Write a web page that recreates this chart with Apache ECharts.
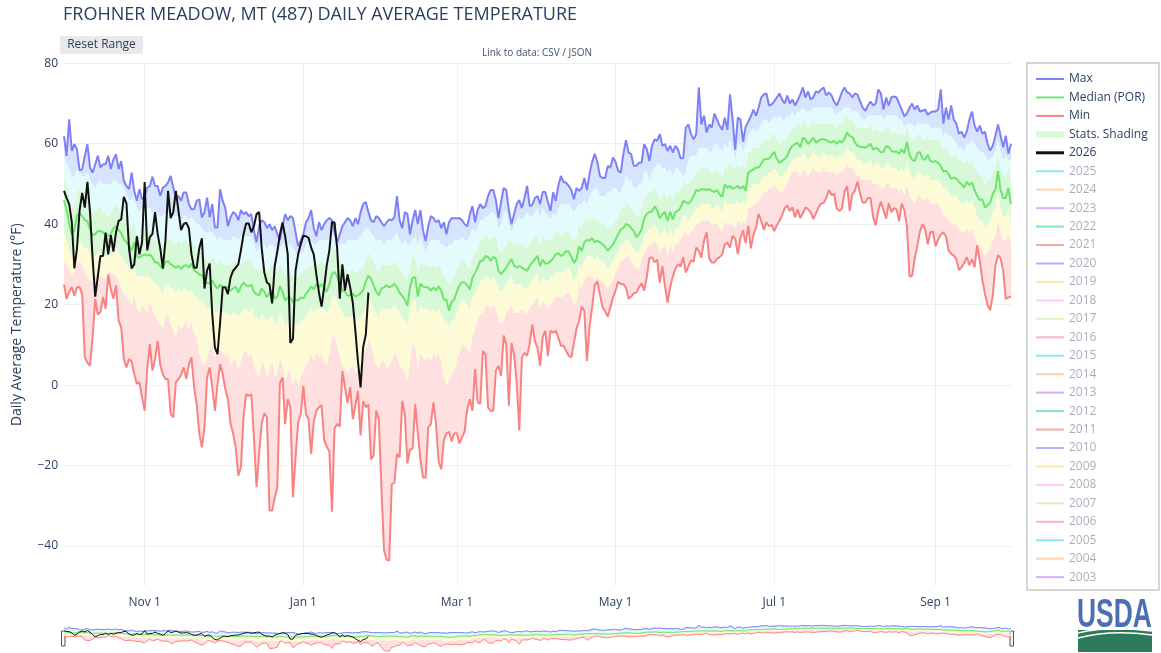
<!DOCTYPE html>
<html>
<head>
<meta charset="utf-8">
<title>Frohner Meadow daily average temperature</title>
<script src="https://cdn.jsdelivr.net/npm/echarts@6/dist/echarts.min.js"></script>
<style>
  html, body { margin: 0; padding: 0; background: #fff; }
  #chart { width: 1161px; height: 653px; }
</style>
</head>
<body>
<div id="chart"></div>
<script>
// water year 2026 : Oct 1 2025 .. Sep 30 2026
const monthNames = ['Oct', 'Nov', 'Dec', 'Jan', 'Feb', 'Mar', 'Apr', 'May', 'Jun', 'Jul', 'Aug', 'Sep']
const monthDays = [31, 30, 31, 31, 28, 31, 30, 31, 30, 31, 31, 30]
const tickLabels = ['Nov 1', 'Jan 1', 'Mar 1', 'May 1', 'Jul 1', 'Sep 1']
const yTicks = [-40, -20, 0, 20, 40, 60, 80]

const dates = []
monthNames.forEach((m, i) => {
  for (let d = 1; d <= monthDays[i]; d++) dates.push(m + ' ' + d)
})

// period of record statistics, deg F, one value per day
const maxTemp = [
  61.9, 57, 66.1, 58.2, 59.9, 58.6, 53.3, 53.7, 57, 59.9,
  54.1, 52.8, 54.9, 57, 54.1, 54.9, 54.9, 57, 53.7, 56.1,
  57.4, 53.7, 55.7, 50.8, 49.5, 48.7, 52.8, 48.3, 45.8, 48.7,
  46.2, 47, 49.1, 49.5, 51.8, 49.5, 49.5, 47, 49.1, 49.5,
  50.4, 52, 49.1, 46.6, 47, 45.8, 47.9, 47.9, 45, 43.7,
  43.7, 45.8, 46.2, 41.7, 42.9, 46.6, 41.7, 45, 39.2, 39.2,
  48.7, 45.8, 44, 39.5, 41.7, 43, 42.5, 41, 43.5, 42.5,
  43, 42, 42.5, 38.5, 35.5, 39.5, 41, 40.5, 39, 40,
  38.5, 39.5, 37.5, 36, 39.5, 42.5, 41, 42, 41.5, 38,
  34.5, 36, 37.5, 40.5, 41.5, 43.5, 39, 37, 40.5, 38.5,
  40, 41, 41.5, 41, 38, 35.5, 37.5, 39.5, 40.5, 41.5,
  41, 39.5, 41.5, 40, 43, 45, 45.5, 43, 41, 40.5,
  42, 41.5, 40.5, 39.5, 40.5, 41.2, 41, 41.7, 47, 41,
  39, 43, 42.5, 37.5, 41, 43.5, 40, 43.5, 38.5, 35.8,
  39.5, 42, 41.5, 40.5, 41, 39, 40.5, 37.5, 40.5, 41.5,
  41.5, 41.5, 41.5, 41, 40, 39.5, 42.5, 44.5, 40.5, 43.5,
  45, 44, 44.5, 47, 48.5, 48.5, 46, 41.5, 45.5, 49,
  48.5, 43.5, 40, 42.5, 45, 46, 44, 46.5, 49.5, 44.5,
  44.8, 46.5, 47, 45, 48, 48, 45.5, 43.3, 47.9, 45.8,
  49.5, 52, 50.5, 50.3, 49.5, 48.5, 46.2, 49, 48.3, 49,
  51.5, 48.5, 52.5, 55.5, 57.5, 55.5, 52, 51.5, 51.5, 54.5,
  54, 56.6, 55.5, 53.3, 52.8, 57.4, 60.9, 57.8, 57.4, 54.5,
  54.5, 55.3, 55.3, 59.9, 58.7, 55.7, 59.5, 61.1, 60.7, 62.4,
  59.5, 59.9, 58.2, 59.5, 57.8, 59.5, 58.6, 56.4, 56.4, 64,
  64.8, 62.4, 61.1, 62.4, 74, 64.8, 67, 62.8, 64.8, 64,
  67.5, 66, 64.5, 63.5, 66.5, 63.5, 72.3, 66, 58.5, 66.5,
  66, 60.5, 64.2, 65.5, 66.8, 68.5, 67, 69, 71.5, 72.3,
  72.5, 69.5, 69.8, 70.5, 71.5, 72.5, 71, 70, 72, 70,
  71, 69.5, 70.8, 72.2, 74, 71.5, 73, 71, 71.5, 73,
  72.7, 73.5, 74, 72, 72.8, 72, 70.5, 69.5, 71, 72.8,
  74, 72.8, 72.5, 71.5, 72.5, 72.2, 70.5, 69, 68.2, 69.5,
  70.5, 69.5, 70, 73.5, 72.5, 68.5, 71.5, 69.5, 71.5, 71.8,
  71.5, 70, 68.5, 66.8, 67.5, 69, 70, 68.5, 69.5, 68,
  68.2, 68.5, 67.2, 67.8, 68, 68, 68.5, 73.5, 65, 69,
  66, 69.5, 66, 65, 62.5, 63, 61.5, 63, 66, 68,
  64.5, 63, 64.5, 62.5, 63, 60, 58.3, 59.5, 62, 64.8,
  62, 59.1, 62, 57.5, 60
]

const p90 = [
  57, 55, 54, 52, 52, 54, 53, 52, 52, 53,
  51, 50, 49, 50, 51, 50, 50, 50, 50, 51,
  51, 50, 50, 49, 47, 46, 46, 47, 44, 43,
  44, 44, 44, 44, 43, 43, 43, 42, 42, 43,
  43, 43, 42, 42, 42, 41, 42, 42, 41, 42,
  41, 40, 40, 39, 38, 38, 38, 38, 37, 36,
  37, 36, 36, 36, 36, 37, 37, 36, 37, 37,
  37, 37, 37, 35, 33, 34, 36, 35, 34, 35,
  35, 34, 33, 34, 35, 35, 35, 35, 34, 33,
  32, 33, 33, 35, 36, 36, 35, 35, 36, 36,
  36, 36, 37, 38, 36.5, 34, 35, 35, 35, 36,
  36, 36, 36, 36, 37, 38, 39, 39, 38, 37,
  36, 36, 36, 35, 36, 36, 36, 37, 38, 36,
  35, 36, 35, 35, 36, 37, 35, 37, 35, 33,
  35, 36, 36, 36, 36, 35, 35, 34, 35, 35,
  36, 36, 36, 37, 36, 36, 37, 39, 38, 39,
  41, 41, 42, 42, 43, 43, 42, 39, 40, 43,
  43, 40, 38, 40, 41, 42, 41, 42, 43, 42,
  42, 43, 44, 42, 44, 43, 42, 41, 43, 42,
  44, 45, 45, 45, 45, 44, 43, 44, 45, 45,
  46, 45, 47, 48, 49, 49, 47, 47, 47, 48,
  48, 49, 49, 48, 48, 50, 52, 51, 51, 49,
  49, 50, 50, 53, 53, 51, 53, 54, 55, 55,
  54, 54, 53, 54, 52, 54, 54, 53, 52, 53,
  56, 57, 57, 57, 59, 59, 59, 59, 58, 58,
  60, 60, 59, 58, 60, 59, 61, 59, 56, 60,
  60, 58, 60, 62, 63, 64, 63, 64, 65, 66,
  66, 65, 66, 67, 66, 67, 66, 66, 67, 67,
  68, 67, 68, 68, 69, 68, 68, 68, 69, 69,
  69, 69, 69, 69, 69, 69, 68, 67, 68, 68,
  69, 69, 69, 68, 68, 68, 67, 66, 66, 67,
  67, 67, 67, 67, 67, 66, 67, 67, 67, 67,
  67, 66, 66, 64, 65, 65, 65, 64, 65, 65,
  65, 65, 65, 64, 64, 64, 64, 64, 62, 63,
  62, 62, 61, 60, 59, 59, 58, 60, 60, 61,
  60, 59, 58, 58, 57, 56, 56, 57, 58, 61,
  58, 56, 57, 56, 56
]

const p70 = [
  52, 50, 47, 44, 45, 48, 49, 48, 47, 47,
  45, 43, 43, 44, 44, 43, 43, 42, 43, 44,
  45, 44, 43, 42, 41, 40, 39, 41, 37, 37,
  38, 38, 38, 38, 37, 36, 36, 35, 35, 36,
  37, 36, 35, 35, 36, 35, 36, 36, 35, 36,
  35, 34, 34, 33, 32, 31, 31, 32, 31, 30,
  31, 30, 30, 30, 30, 30, 31, 29, 30, 31,
  31, 31, 31, 29, 29, 28, 30, 29, 28, 29,
  30, 28, 28, 30, 29, 27, 28, 28, 27, 27,
  27, 28, 28, 29, 29, 30, 30, 31, 30, 31,
  30, 29, 31, 33, 34, 33, 31, 30, 29, 28,
  28, 29, 28, 28, 29, 29, 31, 33, 32, 31,
  29, 28, 30, 30, 30, 30, 30, 31, 30, 29,
  28, 27, 26, 30, 32, 32, 28, 31, 30, 30,
  30, 29, 30, 29, 30, 29, 27, 27, 25, 26,
  27, 29, 30, 31, 31, 30, 29, 32, 33, 34,
  36, 36, 37, 37, 36, 37, 37, 34, 33, 34,
  35, 36, 36, 35, 35, 35, 35, 34, 34, 35,
  36, 37, 37, 35, 37, 36, 36, 36, 37, 38,
  38, 37, 38, 38, 38, 37, 36, 37, 40, 39,
  41, 41, 41, 42, 41, 41, 41, 40, 40, 39,
  39, 40, 41, 42, 44, 44, 45, 45, 44, 43,
  42, 42, 44, 46, 47, 48, 48, 49, 48, 46,
  47, 48, 46, 48, 46, 48, 48, 49, 51, 50,
  50, 51, 52, 53, 53, 54, 54, 54, 54, 53,
  53, 54, 53, 52, 55, 54, 55, 54, 54, 55,
  54, 55, 54, 58, 58, 59, 59, 59, 60, 61,
  61, 61, 62, 63, 61, 60, 61, 61, 62, 63,
  64, 64, 65, 64, 66, 65, 64, 65, 66, 65,
  65, 65, 65, 65, 65, 65, 65, 64, 65, 65,
  66, 67, 66, 66, 65, 64, 64, 64, 64, 64,
  65, 63, 64, 63, 63, 63, 64, 64, 63, 63,
  63, 62, 63, 62, 65, 62, 61, 61, 62, 63,
  61, 61, 62, 61, 61, 61, 61, 60, 59, 59,
  58, 57, 57, 57, 56, 56, 55, 56, 55, 56,
  54, 53, 52, 52, 50, 51, 51, 53, 54, 58,
  54, 52, 52, 54, 51
]

const medianTemp = [
  46, 43.5, 40, 37.5, 38.5, 42.3, 42.7, 42, 41, 40.8,
  38.7, 37.2, 37.5, 38.3, 38.3, 38, 37.2, 37.2, 37.5, 39,
  39.5, 38.5, 37.8, 36.3, 35.5, 34.7, 33.5, 35.5, 32, 31.7,
  32.2, 32.5, 32.2, 32.5, 31.7, 30.5, 30.5, 29.6, 28.8, 30.5,
  30.8, 30, 29.6, 29.2, 29.6, 28.8, 29.6, 29.8, 29.2, 30.3,
  28.5, 28.1, 27.5, 27.3, 26, 25.3, 25.3, 26, 24.8, 24,
  25, 24.3, 24.3, 24.3, 23.5, 24, 24.5, 23, 24.5, 25.5,
  24.8, 24.5, 25, 23.2, 22.6, 22.3, 24, 23.2, 21.8, 23,
  23.6, 21.5, 22, 24.6, 23.2, 21, 21.8, 21.8, 20.5, 21.3,
  21, 21.8, 21.5, 22.7, 23.5, 24.5, 23.8, 25.1, 24.3, 25.1,
  24.3, 23.2, 25.1, 27.6, 28.1, 27, 25.1, 23.6, 23.2, 22.3,
  22.3, 22.8, 22, 22.3, 22.8, 23.6, 25.8, 27.2, 26.5, 24.8,
  23.2, 22.3, 24, 24.3, 24.8, 24.3, 24.6, 25.2, 24.3, 23,
  22.2, 21.2, 19.7, 24.3, 26.7, 26.8, 22, 25.2, 24.5, 24.3,
  24.3, 23.5, 24.3, 23.5, 24.6, 23.5, 21.2, 21.2, 18.5, 20.7,
  21.3, 23.2, 24.8, 25.6, 25.5, 24.8, 23.8, 26.7, 27.9, 29.2,
  30.9, 30.9, 32.1, 31.8, 30.9, 31.8, 31.5, 28.4, 27.6, 28.4,
  29.2, 30.4, 31.3, 29.7, 29.2, 29.6, 29.2, 28.8, 28.4, 29.6,
  30.5, 31.3, 32.1, 29.6, 31.2, 30.2, 30.2, 30.8, 31.5, 32.5,
  32.8, 32.1, 32.5, 33.3, 33.2, 31.9, 30.4, 31.3, 34.5, 33.3,
  35.5, 36.1, 35.9, 36.5, 35.5, 35.9, 35.5, 35, 34.4, 33.4,
  34.2, 35, 36.2, 37.5, 38.7, 39.1, 40, 39.8, 39.1, 38.3,
  36.8, 37.5, 38.7, 41.5, 42.5, 43.1, 43.1, 44.5, 43.5, 41.4,
  42.5, 43, 40.8, 43.1, 41.2, 43, 43.3, 44.1, 45.8, 45.5,
  45.1, 45.8, 47, 48.5, 48.3, 48.7, 48.7, 48.5, 48.8, 48.3,
  48, 48.5, 47.4, 46.8, 49.9, 49, 49.5, 48.8, 49.1, 49.5,
  48.8, 49.5, 48.3, 52.8, 53.3, 53.6, 54.1, 54.1, 55, 56.1,
  56.2, 56.3, 57.1, 58, 56.2, 55.3, 55.8, 56.2, 57, 58.6,
  59.5, 59.9, 60.3, 59.1, 61.5, 61.1, 59.9, 60.7, 61.5, 60.3,
  60.7, 61.1, 61.1, 60.9, 60.5, 60.3, 60.7, 60, 60.7, 60.3,
  61.3, 62.8, 61.9, 61.7, 60.3, 59.5, 59.2, 59.2, 59, 59.4,
  60, 58.5, 59, 58.6, 57.8, 58, 59.4, 59.2, 58.3, 58,
  58, 57.5, 58.6, 57.6, 60.5, 57.2, 56, 55.7, 57.6, 58,
  56.3, 56, 57.2, 55.7, 55.5, 55.7, 55.2, 54.5, 53, 53.3,
  52.5, 51.3, 51.6, 51.3, 50.5, 49.9, 49.1, 50.5, 49.7, 50.4,
  48.5, 47, 46, 46.2, 44.1, 44.8, 45.4, 47.5, 48.7, 53.2,
  48.5, 46.5, 46.5, 49, 45
]

const p30 = [
  38, 36, 34, 32, 33, 35, 36, 35, 34, 34,
  33, 32, 32, 33, 33, 32, 32, 32, 32, 33,
  34, 33, 32, 31, 30, 29, 28, 30, 27, 27,
  27, 27, 27, 27, 26, 25, 25, 24, 23, 25,
  25, 24, 24, 23, 24, 23, 24, 24, 23, 24,
  22, 22, 21, 21, 20, 19, 19, 20, 18, 18,
  19, 18, 18, 18, 17, 18, 18, 17, 18, 19,
  19, 18, 19, 17, 17, 16, 18, 17, 16, 17,
  17, 15, 16, 18, 17, 15, 16, 16, 15, 15,
  15, 16, 16, 17, 18, 19, 18, 19, 19, 19,
  19, 18, 19, 22, 22, 21, 19, 18, 17, 17,
  17, 17, 16, 17, 17, 18, 20, 21, 21, 19,
  18, 17, 19, 19, 19, 19, 19, 20, 19, 18,
  17, 16, 15, 19, 21, 21, 17, 20, 19, 19,
  19, 18, 19, 18, 19, 18, 16, 16, 14, 16,
  16, 18, 20, 21, 21, 20, 19, 22, 23, 24,
  26, 26, 27, 27, 26, 27, 26, 24, 23, 24,
  25, 26, 27, 25, 25, 25, 25, 24, 24, 25,
  26, 27, 28, 25, 27, 26, 26, 27, 27, 28,
  28, 28, 28, 29, 29, 28, 26, 27, 30, 29,
  31, 32, 32, 32, 31, 32, 31, 31, 30, 29,
  30, 31, 32, 33, 35, 35, 36, 36, 35, 34,
  33, 33, 35, 37, 38, 39, 39, 40, 39, 37,
  38, 39, 37, 39, 37, 39, 39, 40, 42, 42,
  41, 42, 43, 44, 44, 45, 45, 45, 45, 44,
  44, 45, 44, 43, 46, 45, 45, 45, 45, 46,
  45, 46, 45, 49, 49, 50, 50, 50, 51, 52,
  52, 53, 53, 54, 53, 52, 52, 53, 53, 55,
  56, 56, 57, 56, 58, 57, 56, 57, 58, 57,
  57, 57, 58, 57, 57, 57, 57, 56, 57, 57,
  58, 59, 58, 58, 57, 56, 56, 55, 55, 55,
  56, 54, 55, 55, 54, 54, 55, 55, 54, 54,
  54, 53, 54, 53, 56, 53, 52, 51, 53, 53,
  52, 52, 53, 51, 51, 51, 51, 50, 49, 49,
  48, 47, 47, 47, 46, 45, 45, 46, 45, 46,
  44, 42, 41, 41, 39, 40, 41, 43, 44, 48,
  44, 42, 42, 44, 40
]

const p10 = [
  31, 30, 29, 27, 28, 30, 31, 30, 28, 27,
  26, 26, 27, 28, 27, 27, 26, 28.5, 28, 28,
  27, 26, 24, 23, 22, 21, 20, 23, 19, 18,
  20, 19, 18, 21, 19, 17, 16, 15, 14, 17,
  18, 15, 14, 12, 15, 14, 15, 16, 14, 16,
  13, 12, 8, 6, 5, 7, 9, 10, 7, 8,
  9, 8, 7, 8, 5, 6, 7, 4, 6, 8,
  9, 7, 8, 5, 3, 2, 6, 5, 2, 4,
  6, 2, 3, 7, 5, 1, 3, 4, 0, 2,
  0, 2, 3, 5, 6, 8, 6, 8, 7, 8,
  6, 5, 8, 12, 12, 10, 7, 5, 4, 3,
  4, 5, 3, 4, 5, 6, 9, 11, 10, 7,
  5, 4, 6, 6, 4, 5, 6, 8, 7, 5,
  4, 3, 1, 6, 10, 10, 4, 8, 7, 6,
  7, 6, 8, 7, 8, 6, 2, 0, 1, 3,
  4, 6, 8, 10, 10, 9, 8, 12, 14, 16,
  18, 18, 20, 20, 19, 20, 19, 16, 15, 16,
  18, 19, 20, 18, 18, 18, 19, 18, 18, 19,
  20, 21, 22, 19, 21, 20, 19, 20, 21, 22,
  22, 22, 22, 23, 23, 22, 20, 21, 25, 24,
  26, 27, 27, 27, 26, 27, 26, 26, 25, 24,
  25, 26, 28, 29, 31, 31, 32, 32, 31, 30,
  29, 29, 31, 33, 34, 35, 35, 36, 35, 33,
  34, 35, 32, 35, 33, 35, 35, 36, 38, 38,
  37, 38, 39, 40, 40, 41, 41, 41, 41, 40,
  40, 40, 39, 38, 41, 40, 40, 40, 39, 41,
  40, 41, 40, 44, 44, 45, 45, 46, 47, 48,
  48, 49, 49, 50, 49, 48, 48, 49, 50, 52,
  53, 53, 53, 52, 54, 53, 52, 53, 54, 53,
  53, 53, 54, 53, 53, 53, 53, 52, 53, 53,
  54, 55, 54, 54, 53, 52, 52, 51, 51, 51,
  51, 50, 50, 50, 49, 49, 50, 50, 49, 49,
  49, 48, 49, 47, 50, 47, 46, 45, 47, 47,
  46, 46, 47, 45, 45, 45, 45, 44, 42, 42,
  41, 40, 40, 40, 39, 38, 38, 39, 38, 39,
  37, 35, 34, 34, 32, 33, 34, 36, 37, 41,
  38, 36, 36, 38, 35
]

const minTemp = [
  25, 21.4, 23.2, 24.4, 22.2, 24.3, 24.4, 22.5, 6.9, 5.6,
  4.8, 12, 21.4, 17.5, 18.2, 21.9, 19, 27.5, 23.8, 21.5,
  24.8, 16, 14.3, 6.5, 4.4, 6.5, 5.8, 2.8, 0.3, 0.7,
  -3, -6.4, 4, 10.2, 3.6, 6.5, 11, 5, 2.7, 1.5,
  1.5, -7.2, -8, 0.7, 1.5, 2.5, 4.4, 1.5, 5, 6.9,
  -0.5, -4.7, -12, -15.5, -10.5, 1.9, 4.4, -0.6, -6.4, 0.2,
  5.2, 2.7, -1, -3.5, -9.5, -12, -15.5, -22.5, -20.5, -8,
  -2.3, -2.7, -2.3, -12.8, -25.4, -17, -9.5, -7, -8, -31.2,
  -31.2, -28, -25.4, 0.5, 1.9, -9.7, -3.5, -5.5, -27.9, -18,
  -9.3, -7.2, -0.2, -7.2, -8.5, -17.1, -9, -6.4, -5.5, -5,
  -13.7, -15.3, -16.5, -31.5, -10.8, -9.7, -10.3, 3.5, -0.6, -4.5,
  -0.5, -8.5, -5, -1.5, -12.5, -4, -5.5, -4.8, -18.5, -17.5,
  -6.3, -8.5, -25.4, -41, -43.4, -43.6, -24.6, -24.3, -17.1, -18,
  -3.9, -7.2, -19.5, -16, -15.8, -4.7, -12, -18.5, -23, -23,
  -10.5, -9.7, -4.3, -9.8, -19, -20.9, -13.7, -12, -11.6, -14,
  -12, -12, -14.5, -13, -11.5, -6, -3.5, -6.4, 4, -4.3,
  -4.7, 8.5, 7.5, -5.6, -6.4, -6.4, 3.6, 4.8, 2.3, 12.3,
  10, -5.1, 10.5, 7.5, 0.6, -11.3, 6.9, 8, 7.3, 10.2,
  15.1, 10.9, 9.3, 4.8, 12, 13.5, 7.2, 13.5, 13, 13.5,
  11.8, 9.8, 9.8, 8.5, 7.3, 6.9, 10.5, 14, 16, 19.5,
  18.5, 6, 14.5, 19.3, 24.8, 25.8, 22.5, 19.3, 18.4, 17,
  19.3, 21.7, 23.5, 25.7, 25.1, 25.1, 24.2, 21.5, 22, 22.8,
  23, 24.3, 25.3, 23.5, 26.8, 31.5, 31.8, 30.5, 31.2, 25.5,
  29.5, 24.6, 20.5, 24.4, 27, 29, 30, 29.5, 31.8, 28,
  29.5, 31, 30.7, 34.2, 33.3, 31.7, 35.9, 38, 31.5, 30.5,
  30.5, 31.4, 31.8, 32.5, 35, 35.4, 34.2, 37.1, 36.4, 32.6,
  36.5, 38.5, 35.3, 39.6, 34, 37.3, 39.2, 42.6, 40.8, 38.6,
  40.5, 39.5, 39.8, 38.3, 39.8, 40.8, 42.2, 44, 44.6, 43.3,
  44.2, 41.7, 43.7, 41.5, 42.7, 44.2, 43.7, 43, 41.3, 42.7,
  44.2, 45.1, 45.3, 46.5, 48.5, 47.3, 47.5, 43.9, 43.3, 43.9,
  48, 49.5, 43.3, 47.5, 48.3, 50.6, 47.6, 45.3, 45.4, 46.5,
  46.5, 41.8, 39.7, 43.5, 45.6, 43.5, 41.4, 45.2, 43, 44,
  43.7, 40.7, 45.1, 43.5, 39.5, 27, 27.2, 31.5, 34.6, 38.2,
  40, 38.8, 35, 38, 38.2, 34.5, 36.2, 37.4, 38, 37,
  33.5, 32.6, 32.2, 31.3, 28.6, 29.3, 30.4, 31.8, 29.8, 31.3,
  29.3, 34.8, 30.8, 26.2, 22.6, 19.9, 18.6, 22.3, 29.6, 32.3,
  31.5, 28.4, 21.4, 21.8, 22
]

// current water year, through Jan 26
const wy2026 = [
  48.3, 46.5, 45, 40.5, 29, 34, 43.5, 47.8, 44.1, 50.5,
  43, 31.5, 22, 27, 32.1, 32.1, 37.9, 32.5, 37.3, 33.2,
  38, 40.8, 41.2, 46.8, 45.2, 34, 29, 30, 37, 32.5,
  35.5, 50.5, 33.5, 36.8, 37.6, 43, 37.6, 34, 29, 36,
  48.3, 41.5, 43, 48.3, 43.3, 38.5, 40, 40.4, 39, 32.5,
  29.2, 29.2, 34, 36.5, 24, 28.5, 30.2, 17.5, 9.4, 7.7,
  15.5, 24.3, 24.3, 22.6, 26.7, 28.4, 29.2, 30, 33.5, 37.5,
  40.2, 40.2, 38, 39.5, 42.5, 43, 34, 28, 25.5, 25,
  20.3, 29.6, 33.2, 37.5, 40.4, 37, 32.5, 10.5, 11.5, 28.4,
  32.5, 35, 37.1, 37, 36.6, 34.2, 32.5, 27.5, 23, 19.5,
  24.3, 29.8, 33.5, 40.5, 40.4, 34, 21.5, 30, 23.5, 27.5,
  24.3, 20.5, 13.5, 5.8, -0.6, 9.5, 12.5, 23
]

const pastYears = ['2025', '2024', '2023', '2022', '2021', '2020', '2019', '2018', '2017', '2016', '2015', '2014',
  '2013', '2012', '2011', '2010', '2009', '2008', '2007', '2006', '2005', '2004', '2003']
const palette = ['#19d3f3', '#ffa15a', '#ab63fa', '#00cc96', '#ef553b', '#636efa', '#fecb52', '#ff97ff', '#b6e880', '#ff6692']

const maxColor = '#8080f6'
const medColor = '#6ee46e'
const minColor = '#f98383'
const textColor = '#2a3f5f'
const gridColor = '#ebf0f8'

// stacked band edges, bottom to top
const bandEdges = [minTemp, p10, p30, p70, p90, maxTemp]
const bandColors = ['#fde0df', '#fdfbd6', '#d8f9d8', '#e4fbfd', '#d6e4fd']

const bandSeries = (idx, stack) => {
  const out = [{
    name: 'base', type: 'line', xAxisIndex: idx, yAxisIndex: idx,
    stack, stackStrategy: 'all', data: minTemp, symbol: 'none', silent: true, z: 1,
    lineStyle: { width: 0, opacity: 0 }
  }]
  bandColors.forEach((c, i) => {
    const lo = bandEdges[i], hi = bandEdges[i + 1]
    out.push({
      name: 'Stats. Shading', type: 'line', xAxisIndex: idx, yAxisIndex: idx,
      stack, stackStrategy: 'all', symbol: 'none', silent: true, z: 1,
      data: hi.map((v, k) => +Math.max(0, v - lo[k]).toFixed(2)),
      lineStyle: { width: 0, opacity: 0 },
      areaStyle: { color: c, opacity: 1 }
    })
  })
  return out
}

const lineSeries = (name, data, color, width, idx, z) => ({
  name, type: 'line', data, xAxisIndex: idx, yAxisIndex: idx,
  symbol: 'none', silent: true, z, color,
  lineStyle: { color, width }
})

const showTick = (i, v) => tickLabels.indexOf(v) > -1

// legend icons: thin bars inside a 28x12 box
const lineIcon = 'path://M0,0M0,5L28,5L28,7L0,7ZM28,12'
const boldIcon = 'path://M0,0M0,4.5L28,4.5L28,7.5L0,7.5ZM28,12'
const shadeIcon = 'path://M0,0M0,3L28,3L28,9L0,9ZM28,12'

const legendData = [
  { name: 'Max', icon: lineIcon, itemStyle: { color: maxColor, borderWidth: 0 } },
  { name: 'Median (POR)', icon: lineIcon, itemStyle: { color: medColor, borderWidth: 0 } },
  { name: 'Min', icon: lineIcon, itemStyle: { color: minColor, borderWidth: 0 } },
  { name: 'Stats. Shading', icon: shadeIcon, itemStyle: { color: '#d8f9d8', borderWidth: 0 } },
  { name: '2026', icon: boldIcon, itemStyle: { color: '#111', borderWidth: 0 } }
]
pastYears.forEach((y, i) => {
  legendData.push({
    name: y, icon: lineIcon,
    itemStyle: { color: palette[i % palette.length], opacity: 0.5, borderWidth: 0 },
    textStyle: { color: 'rgba(42,63,95,0.42)' }
  })
})

const series = [
  ...bandSeries(0, 'stats'),
  lineSeries('Max', maxTemp, maxColor, 2, 0, 2),
  lineSeries('Median (POR)', medianTemp, medColor, 2, 0, 2),
  lineSeries('Min', minTemp, minColor, 2, 0, 2),
  lineSeries('2026', wy2026, '#111', 2, 0, 3),
  // range slider preview
  ...bandSeries(1, 'statsMini'),
  lineSeries('Max', maxTemp, maxColor, 1, 1, 2),
  lineSeries('Median (POR)', medianTemp, medColor, 1, 1, 2),
  lineSeries('Min', minTemp, minColor, 1, 1, 2),
  lineSeries('2026', wy2026, '#111', 1, 1, 3)
]
pastYears.forEach((y, i) => series.push(lineSeries(y, [], palette[i % palette.length], 2, 0, 2)))

const chart = echarts.init(document.getElementById('chart'), null, { renderer: 'canvas' })

chart.setOption({
  animation: false,
  backgroundColor: '#fff',
  textStyle: { fontFamily: '"Open Sans", "DejaVu Sans", sans-serif' },
  title: {
    text: 'FROHNER MEADOW, MT (487) DAILY AVERAGE TEMPERATURE',
    left: 63, top: 6, padding: 0,
    textStyle: { fontSize: 18, fontWeight: 'normal', color: textColor }
  },
  legend: {
    orient: 'vertical', left: 1036, top: 73, padding: 0,
    itemWidth: 28, itemHeight: 12, itemGap: 6.45,
    selectedMode: false,
    textStyle: { fontSize: 12, lineHeight: 12, color: textColor },
    data: legendData
  },
  grid: [
    { left: 64, top: 63.3, width: 947, height: 522.9, outerBoundsMode: 'none', containLabel: false },
    { left: 64, top: 624, width: 947, height: 28.6, outerBoundsMode: 'none', containLabel: false }
  ],
  xAxis: [{
    type: 'category', gridIndex: 0, data: dates, boundaryGap: false,
    axisLine: { show: false }, axisTick: { show: false },
    axisLabel: { interval: showTick, color: textColor, fontSize: 12, margin: 10 },
    splitLine: { show: true, interval: showTick, lineStyle: { color: gridColor, width: 1 } }
  }, {
    type: 'category', gridIndex: 1, data: dates, boundaryGap: false, show: false
  }],
  yAxis: [{
    type: 'value', gridIndex: 0, min: -50, max: 80, interval: 10,
    name: 'Daily Average Temperature (\u00b0F)', nameLocation: 'middle', nameGap: 40, nameRotate: 90,
    nameTextStyle: { fontSize: 14, color: textColor },
    axisLine: { show: false }, axisTick: { show: false },
    axisLabel: {
      color: textColor, fontSize: 12, margin: 6,
      formatter: v => yTicks.indexOf(v) > -1 ? (v < 0 ? '\u2212' + (-v) : String(v)) : ''
    },
    // only every second split line (the multiples of 20) is drawn
    splitLine: { show: true, lineStyle: { color: ['rgba(0,0,0,0)', gridColor], width: 1 } }
  }, {
    type: 'value', gridIndex: 1, min: -50, max: 80, show: false,
    splitLine: { show: false }
  }],
  graphic: [
    // legend frame
    { type: 'rect', z: 0, shape: { x: 1027, y: 63, width: 132, height: 527 },
      style: { fill: '#fff', stroke: '#d6d6d6', lineWidth: 2 } },
    // reset button
    { type: 'rect', shape: { x: 60, y: 36, width: 83, height: 18, r: 1 }, style: { fill: '#e9e9ec' } },
    { type: 'text', x: 101.5, y: 45, style: { text: 'Reset Range', font: '12px "Open Sans"', fill: textColor, align: 'center', verticalAlign: 'middle' } },
    { type: 'text', x: 537, y: 53, style: { text: 'Link to data: CSV / JSON', font: '10px "Open Sans"', fill: '#44546a', align: 'center', verticalAlign: 'middle' } },
    // range slider handles
    { type: 'rect', shape: { x: 61.5, y: 631, width: 3.5, height: 15 }, style: { fill: '#f6f6f6', stroke: '#555', lineWidth: 1 } },
    { type: 'rect', shape: { x: 1010, y: 631, width: 3.5, height: 15 }, style: { fill: '#f6f6f6', stroke: '#555', lineWidth: 1 } },
    // USDA logo
    { type: 'text', x: 1077, y: 596, scaleX: 0.66,
      style: { text: 'USDA', font: 'bold 40px "Liberation Sans"', fill: '#4d6db4', verticalAlign: 'top' } },
    { type: 'rect', shape: { x: 1078, y: 630, width: 74, height: 22 }, style: { fill: '#2e7b5b' } },
    { type: 'bezierCurve', shape: { x1: 1078, y1: 633, x2: 1152, y2: 631, cpx1: 1105, cpy1: 626, cpx2: 1130, cpy2: 628 },
      style: { stroke: '#fff', lineWidth: 1.6, fill: null } },
    { type: 'bezierCurve', shape: { x1: 1078, y1: 638, x2: 1152, y2: 635, cpx1: 1105, cpy1: 631, cpx2: 1130, cpy2: 632 },
      style: { stroke: '#fff', lineWidth: 1.6, fill: null } }
  ],
  series
})
</script>
</body>
</html>
